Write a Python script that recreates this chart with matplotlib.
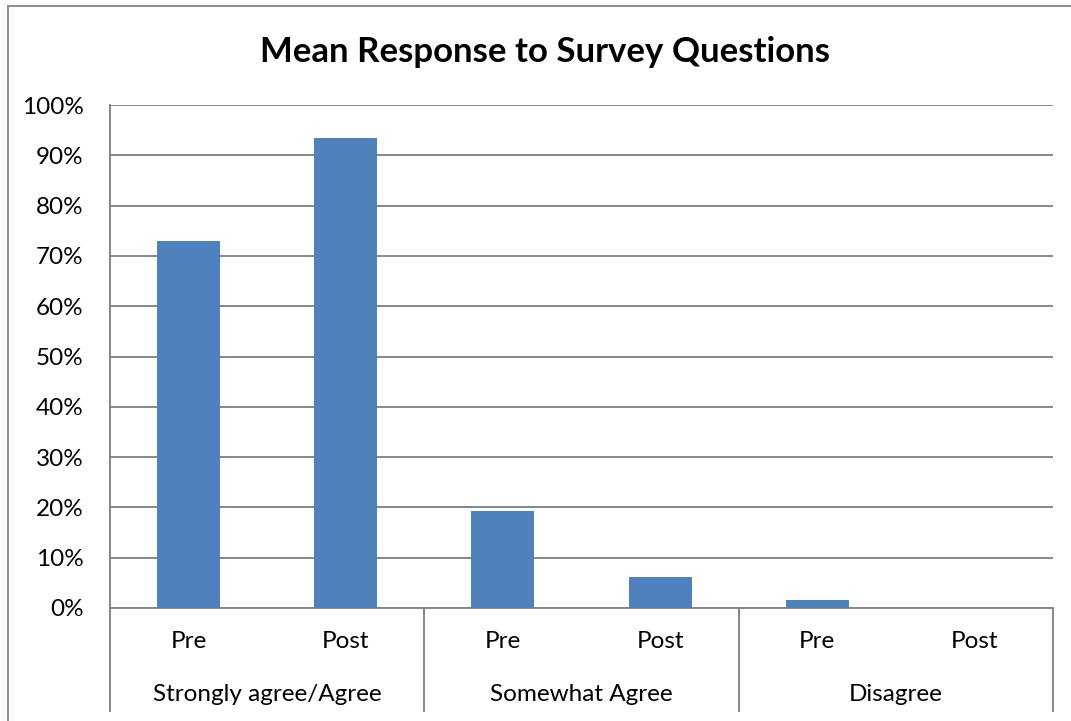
import matplotlib
matplotlib.use("Agg")
import matplotlib.pyplot as plt
from matplotlib.lines import Line2D
from matplotlib.ticker import PercentFormatter

groups = ["Strongly agree/Agree", "Somewhat Agree", "Disagree"]
phases = ["Pre", "Post"]
values = [73.0, 93.5, 19.3, 6.2, 1.6, 0.0]
yticks = [0, 10, 20, 30, 40, 50, 60, 70, 80, 90, 100]

FONT = "Lato"
BAR = "#4F81BD"
GRID = "#868686"
FS = 17.5

fig = plt.figure(figsize=(10.71, 7.21), dpi=100)
W, H = 1071, 721
ax = fig.add_axes([110 / W, 1 - 608 / H, 943 / W, 503 / H])

x = list(range(len(values)))
ax.bar(x, values, width=0.4, color=BAR, zorder=3)
ax.set_xlim(-0.5, len(values) - 0.5)
ax.set_ylim(0, 100)
ax.set_yticks(yticks)
ax.yaxis.set_major_formatter(PercentFormatter(decimals=0))
ax.grid(axis="y", color=GRID, linewidth=1.4, zorder=0)
ax.tick_params(axis="y", length=0, pad=19, labelsize=FS)
for lab in ax.get_yticklabels():
    lab.set_fontfamily(FONT)
ax.set_xticks(x)
ax.set_xticklabels([])
ax.tick_params(axis="x", length=0)
for s in ["top", "right", "left"]:
    ax.spines[s].set_visible(False)
ax.spines["bottom"].set_color(GRID)
ax.spines["bottom"].set_linewidth(1.4)

xt = ax.get_xaxis_transform()
for i in x:
    ax.text(i, -0.066, phases[i % len(phases)], transform=xt, ha="center", va="center",
            fontsize=FS, fontfamily=FONT)

# group labels and dividers
n = len(phases)
for gi, g in enumerate(groups):
    cx = gi * n + (n - 1) / 2
    ax.text(cx, -0.171, g, transform=xt, ha="center", va="center",
            fontsize=FS, fontfamily=FONT)
for gi in range(len(groups) + 1):
    xd = gi * n - 0.5
    ax.plot([xd, xd], [0, -0.204], transform=xt, color=GRID, linewidth=1.4, clip_on=False)
# left axis line inside plot
ax.plot([-0.5, -0.5], [0, 1], transform=xt, color=GRID, linewidth=1.4, clip_on=False)

fig.text(545 / W, 1 - 52 / H, "Mean Response to Survey Questions", ha="center", va="center",
         fontsize=25, fontweight="bold", fontfamily=FONT)

# outer border
fig.add_artist(Line2D([7.5 / W, 7.5 / W], [0, 1 - 6 / H], color="#8c8c8c", linewidth=1.4))
fig.add_artist(Line2D([7.5 / W, 1], [1 - 6 / H, 1 - 6 / H], color="#8c8c8c", linewidth=1.4))

fig.savefig("out.png", dpi=100, facecolor="white")
